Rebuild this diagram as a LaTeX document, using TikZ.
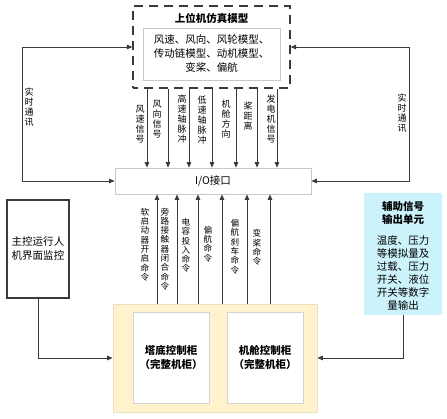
\documentclass[tikz,border=0pt]{standalone}
\usepackage{fontspec}
\newfontfamily\cjk{Noto Sans CJK SC}
\usetikzlibrary{arrows.meta}
\definecolor{lc}{HTML}{3A3A3A}
\definecolor{bx}{HTML}{C8C8C8}
\definecolor{cabfill}{HTML}{FFF2CC}
\definecolor{cabline}{HTML}{EADFC0}
\definecolor{auxfill}{HTML}{CCF3FC}
\tikzset{
  ln/.style={draw=lc, line width=0.9pt},
  arr/.style={ln, -{Triangle[length=5.5pt,width=4.5pt]}},
  darr/.style={ln, {Triangle[length=5.5pt,width=4.5pt]}-{Triangle[length=5.5pt,width=4.5pt]}},
  txt/.style={font=\cjk\fontsize{10.5}{14}\selectfont, align=center, inner sep=0pt, text=black},
  btxt/.style={font=\cjk\bfseries\fontsize{10.5}{14}\selectfont, align=center, inner sep=0pt, text=black},
  vlab/.style={font=\cjk\fontsize{9}{10}\selectfont, align=center, inner sep=0pt, text=black},
  vlabb/.style={font=\cjk\fontsize{8.6}{9.3}\selectfont, align=center, inner sep=0pt, text=black},
  rbox/.style={draw=bx, line width=0.8pt, fill=white, inner sep=0pt},
}
\begin{document}
\begin{tikzpicture}[x=1pt,y=-1pt]
\useasboundingbox (0,0) rectangle (447,418);
% top dashed model box
\node[draw=lc, line width=1.2pt, dash pattern=on 9pt off 6pt, dash phase=4pt, minimum width=157pt, minimum height=82pt, inner sep=0pt] (model) at (211.5,47) {};
\node[btxt] (mtitle) at (211.5,18) {上位机仿真模型};
\node[rbox, minimum width=137pt, minimum height=52pt, txt] (inner) at (211.5,54) {风速、风向、风轮模型、\\传动链模型、动机模型、\\变桨、偏航};
% I/O box
\node[rbox, minimum width=196pt, minimum height=26pt, txt] (io) at (213,181) {I/O接口};
% loops
\draw[darr] (model.west) -- (22,47) -- (22,181) -- (io.west);
\draw[darr] (model.east) -- (409,47) -- (409,181) -- (io.east);
\node[vlab] (l1) at (29,107) {实\\时\\通\\讯};
\node[vlab] (l2) at (402,113) {实\\时\\通\\讯};
% top arrows
\foreach \x in {147,168,189,212,236,257,277}
  \draw[arr] (model.south -| \x,0) -- (io.north -| \x,0);
\node[vlab] (t1) at (140,124) {风\\速\\信\\号};
\node[vlab] (t2) at (157,119) {风\\向\\信\\号};
\node[vlab] (t3) at (182,119) {高\\速\\轴\\脉\\冲};
\node[vlab] (t4) at (202,120) {低\\速\\轴\\脉\\冲};
\node[vlab] (t5) at (226,119) {机\\舱\\方\\向};
\node[vlab] (t6) at (248,116) {桨\\距\\离};
\node[vlab] (t7) at (271,119) {发\\电\\机\\信\\号};
% cabinet
\node[draw=cabline, line width=0.8pt, fill=cabfill, minimum width=204pt, minimum height=108pt, inner sep=0pt] (cab) at (215,358) {};
\node[rbox, draw=bx!80, minimum width=76pt, minimum height=91pt, btxt] (tower) at (171,357.5) {塔底控制柜\\（完整机柜）};
\node[rbox, draw=bx!80, minimum width=76pt, minimum height=91pt, btxt] (nacelle) at (265,357.5) {机舱控制柜\\（完整机柜）};
% bottom arrows
\foreach \x in {157,177,198,222,247,270}
  \draw[arr] (cab.north -| \x,0) -- (io.south -| \x,0);
\node[vlabb] (b1) at (145,244.5) {软\\启\\动\\器\\开\\启\\命\\令};
\node[vlabb] (b2) at (165,249) {旁\\路\\接\\触\\器\\闭\\合\\命\\令};
\node[vlabb] (b3) at (186,245.5) {电\\容\\投\\入\\命\\令};
\node[vlabb] (b4) at (208,244) {偏\\航\\命\\令};
\node[vlabb] (b5) at (235,246.5) {偏\\航\\刹\\车\\命\\令};
\node[vlabb] (b6) at (257,247.5) {变\\桨\\命\\令};
% monitor
\node[draw=lc, line width=1.3pt, minimum width=62pt, minimum height=98pt, txt] (mon) at (38,249) {主控运行人\\机界面监控};
\draw[arr] (mon.south) |- (cab.west);
% aux
\node[fill=auxfill, minimum width=78pt, minimum height=122pt, inner sep=0pt] (aux) at (403,254) {};
\node[btxt, font=\cjk\bfseries\fontsize{10.5}{13}\selectfont] (auxt) at (403,212.5) {辅助信号\\输出单元};
\node[txt, font=\cjk\fontsize{10.5}{13}\selectfont] (auxb) at (403,272.5) {温度、压力\\等模拟量及\\过载、压力\\开关、液位\\开关等数字\\量输出};
\draw[arr] (aux.south) |- (cab.east);
\end{tikzpicture}
\end{document}
